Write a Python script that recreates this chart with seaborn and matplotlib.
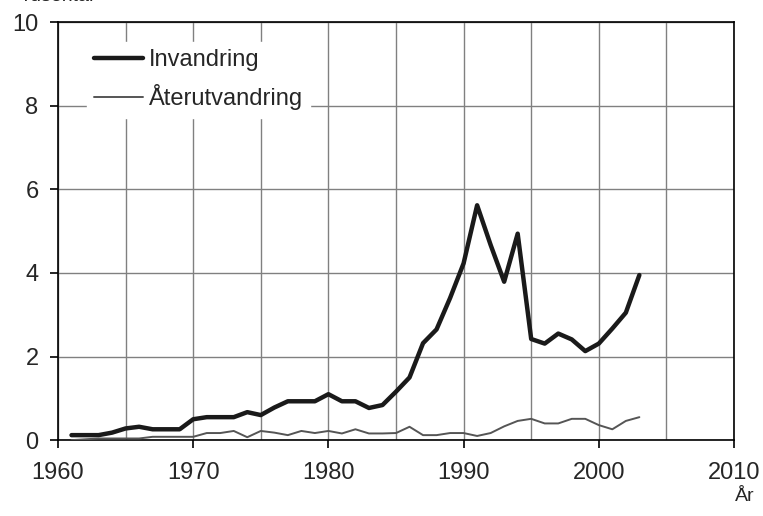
import matplotlib
matplotlib.use("Agg")
import matplotlib.pyplot as plt
from matplotlib.ticker import MultipleLocator
import pandas as pd
import seaborn as sns

years = list(range(1961, 2004))
invandring = [0.12, 0.12, 0.12, 0.18, 0.28, 0.32, 0.26, 0.26, 0.26, 0.50,
              0.55, 0.55, 0.55, 0.67, 0.60, 0.78, 0.93, 0.93, 0.93, 1.10,
              0.93, 0.93, 0.77, 0.84, 1.16, 1.50, 2.32, 2.65, 3.40, 4.23,
              5.62, 4.67, 3.79, 4.94, 2.42, 2.31, 2.55, 2.41, 2.13, 2.31,
              2.67, 3.05, 3.95]
aterutvandring = [0.00, 0.02, 0.04, 0.04, 0.04, 0.04, 0.08, 0.08, 0.08, 0.08,
                  0.17, 0.17, 0.22, 0.07, 0.22, 0.18, 0.12, 0.22, 0.17, 0.22,
                  0.16, 0.26, 0.16, 0.16, 0.17, 0.32, 0.12, 0.12, 0.17, 0.17,
                  0.10, 0.17, 0.33, 0.46, 0.51, 0.40, 0.40, 0.51, 0.51, 0.36,
                  0.26, 0.46, 0.55]

df = pd.DataFrame({"År": years, "Invandring": invandring,
                   "Återutvandring": aterutvandring})

sns.set_style("white")
plt.rcParams["font.family"] = ["Liberation Sans", "DejaVu Sans"]

fig = plt.figure(figsize=(7.63, 5.16), dpi=100)
ax = fig.add_axes([0.076, 0.147, 0.886, 0.810])

sns.lineplot(data=df, x="År", y="Invandring", ax=ax, color="#1a1a1a",
             linewidth=3.2, label="Invandring", zorder=3)
sns.lineplot(data=df, x="År", y="Återutvandring", ax=ax, color="#555555",
             linewidth=1.4, label="Återutvandring", zorder=3)

ax.set_xlim(1960, 2010)
ax.set_ylim(0, 10)
ax.xaxis.set_major_locator(MultipleLocator(10))
ax.xaxis.set_minor_locator(MultipleLocator(5))
ax.yaxis.set_major_locator(MultipleLocator(2))
ax.grid(True, which="both", color="#808080", linewidth=1.0)
ax.set_axisbelow(True)

for s in ax.spines.values():
    s.set_color("black")
    s.set_linewidth(1.2)

ax.tick_params(axis="both", which="major", direction="out", length=6,
               width=1.2, color="black", labelsize=17)
ax.tick_params(axis="x", which="minor", direction="out", length=6,
               width=1.0, color="#808080")
ax.tick_params(axis="x", which="major", pad=10)
ax.tick_params(axis="y", which="major", pad=8)
ax.tick_params(bottom=True, left=True)

ax.set_xlabel("")
ax.set_ylabel("")

# legend: white box without border, hides the grid behind it
leg = ax.legend(loc="upper left", bbox_to_anchor=(0.025, 0.98), frameon=True,
                fontsize=17, handlelength=2.1, handletextpad=0.25,
                labelspacing=0.55, borderpad=0.3)
leg.get_frame().set_facecolor("white")
leg.get_frame().set_edgecolor("white")
leg.get_frame().set_alpha(1)

fig.text(0.976, 0.03, "År", fontsize=14, ha="center", va="baseline")
# unit label sits mostly above the top edge, as in the source image
fig.text(0.026, 0.999, "Tusental", fontsize=14, ha="left", va="baseline")

fig.savefig("out.png", dpi=100)
